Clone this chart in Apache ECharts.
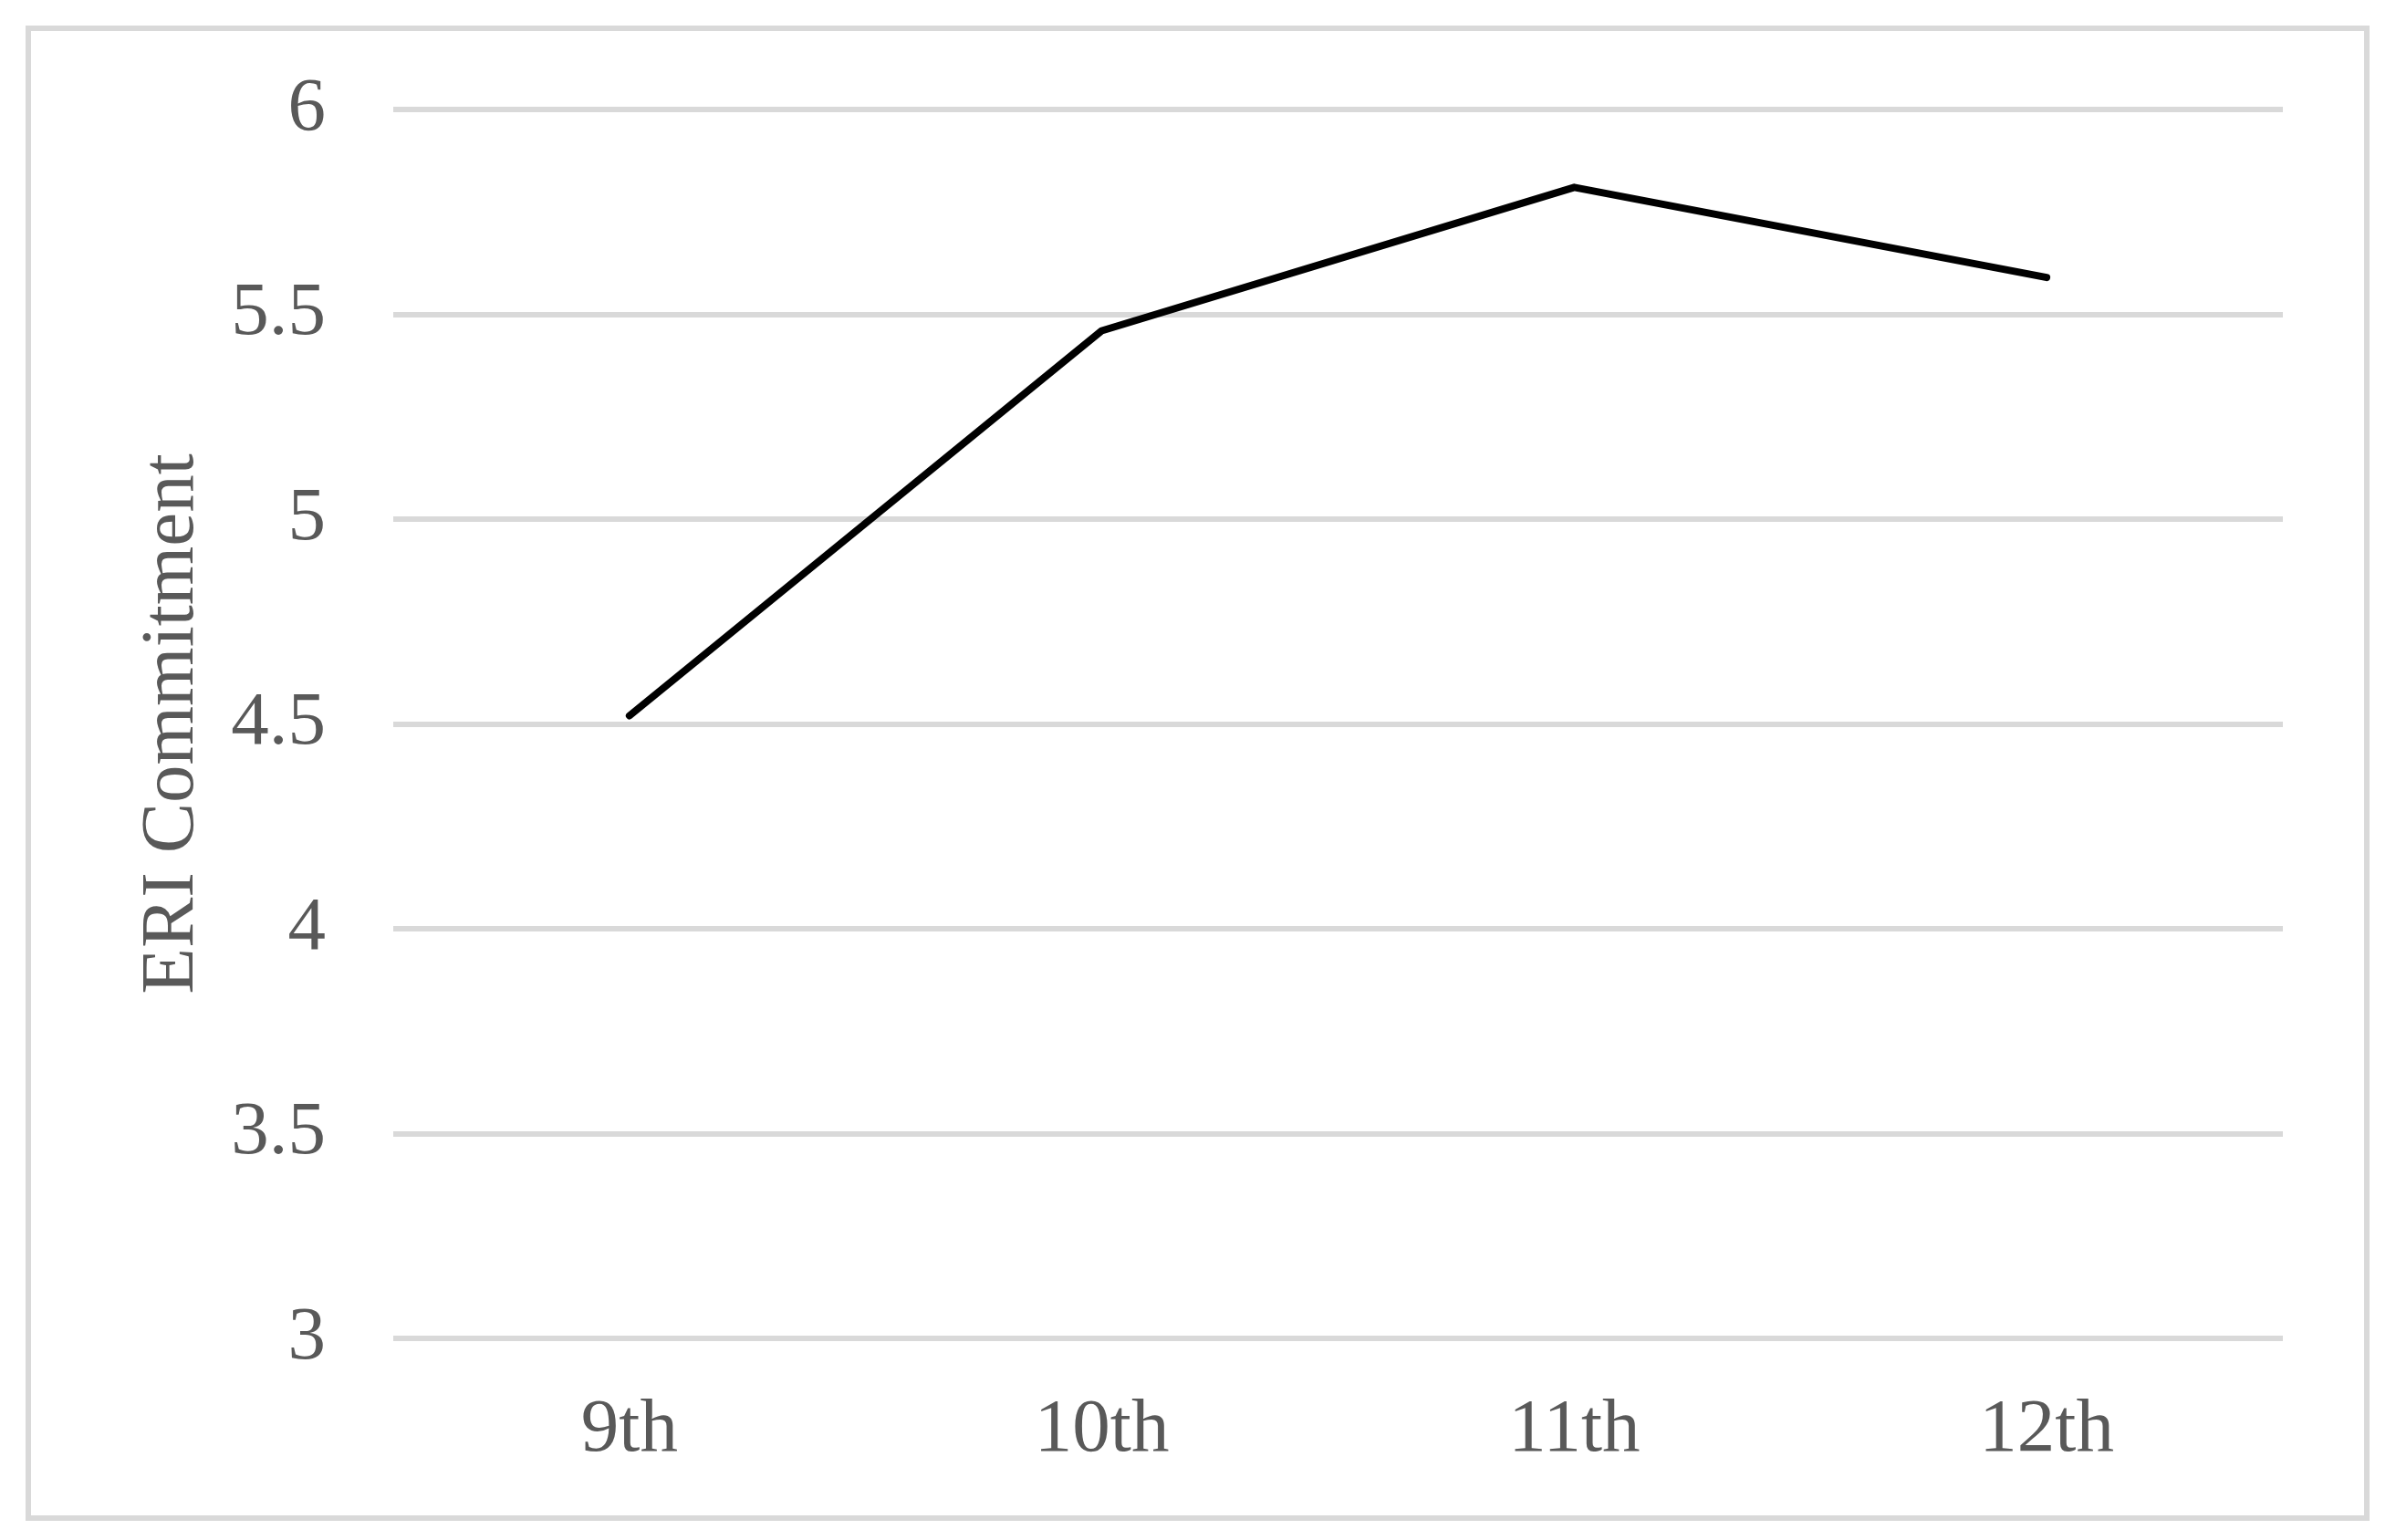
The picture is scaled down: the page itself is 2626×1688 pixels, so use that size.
<!DOCTYPE html>
<html>
<head>
<meta charset="utf-8">
<script src="https://cdn.jsdelivr.net/npm/echarts@6/dist/echarts.min.js"></script>
<style>
    html, body { margin: 0; padding: 0; background: #fff; }
    #chart { width: 2626px; height: 1688px; }
</style>
</head>
<body>
<div id="chart"></div>
<script>
// grade levels and mean ERI commitment
const grades = ['9th', '10th', '11th', '12th']
const commitment = [4.52, 5.46, 5.81, 5.59]
const yTicks = { min: 3, max: 6, step: 0.5 }

const font = '"Liberation Serif", "Times New Roman", serif'
const grey = '#595959'
const lineGrey = '#d9d9d9'

let myChart = echarts.init(document.getElementById('chart'))
let option = {
    backgroundColor: '#fff',
    animation: false,
    graphic: [
        {
            type: 'rect',
            shape: { x: 31, y: 31, width: 2563, height: 1633 },
            style: { fill: 'none', stroke: lineGrey, lineWidth: 6 }
        }
    ],
    grid: {
        left: 431,
        right: 124,
        top: 120,
        bottom: 221
    },
    xAxis: {
        type: 'category',
        data: grades,
        boundaryGap: true,
        axisLine: { show: false },
        axisTick: { show: false },
        axisLabel: {
            margin: 60,
            fontSize: 83,
            fontFamily: font,
            color: grey
        }
    },
    yAxis: {
        type: 'value',
        min: yTicks.min,
        max: yTicks.max,
        interval: yTicks.step,
        name: 'ERI Commitment',
        nameLocation: 'middle',
        nameGap: 200,
        nameTextStyle: {
            fontSize: 83,
            fontFamily: font,
            color: grey
        },
        axisLine: { show: false },
        axisTick: { show: false },
        axisLabel: {
            margin: 74,
            fontSize: 83,
            fontFamily: font,
            color: grey
        },
        splitLine: {
            lineStyle: { color: lineGrey, width: 6 }
        }
    },
    series: [
        {
            type: 'line',
            data: commitment,
            showSymbol: false,
            lineStyle: {
                color: '#000',
                width: 8,
                cap: 'round',
                join: 'round'
            }
        }
    ]
}
myChart.setOption(option)
</script>
</body>
</html>
